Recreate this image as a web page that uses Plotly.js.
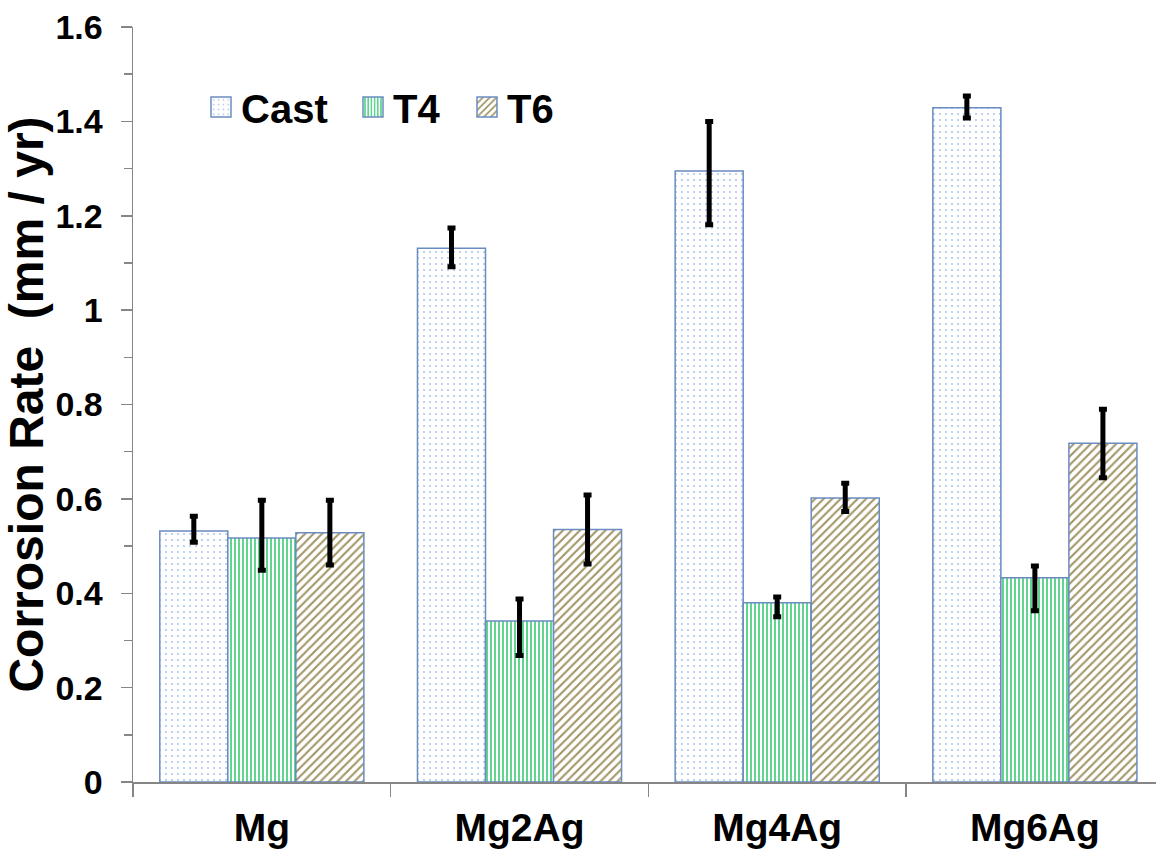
<!DOCTYPE html>
<html>
<head>
<meta charset="utf-8">
<script src="https://cdn.plot.ly/plotly-3.0.1.min.js"></script>
<style>
html,body{margin:0;padding:0;background:#fff;overflow:hidden;}
#chart{width:1156px;height:852px;}
</style>
</head>
<body>
<div id="chart"></div>
<script>
const categories = ['Mg', 'Mg2Ag', 'Mg4Ag', 'Mg6Ag'];
const seriesNames = ['Cast', 'T4', 'T6'];

const castValues = [0.532, 1.131, 1.295, 1.429];
const castErrPlus = [0.031, 0.043, 0.105, 0.025];
const castErrMinus = [0.024, 0.039, 0.114, 0.022];

const t4Values = [0.517, 0.341, 0.380, 0.433];
const t4ErrPlus = [0.080, 0.047, 0.012, 0.025];
const t4ErrMinus = [0.068, 0.073, 0.030, 0.070];

const t6Values = [0.528, 0.535, 0.602, 0.718];
const t6ErrPlus = [0.069, 0.073, 0.031, 0.072];
const t6ErrMinus = [0.068, 0.073, 0.029, 0.073];

const yTickLabels = ['0', '0.2', '0.4', '0.6', '0.8', '1', '1.2', '1.4', '1.6'];
const yTickVals = [0, 0.2, 0.4, 0.6, 0.8, 1.0, 1.2, 1.4, 1.6];

const FONT = '"Liberation Sans", Arial, sans-serif';
const outline = '#6A8CC0';

function errBar(plus, minus) {
  return {type: 'data', symmetric: false, array: plus, arrayminus: minus,
          color: '#000000', thickness: 5, width: 4};
}

const traces = [
  {type: 'bar', name: seriesNames[0], x: categories, y: castValues, legend: 'legend',
   marker: {color: '#ffffff', line: {color: outline, width: 1.5},
            pattern: {shape: '.', fgcolor: '#AFC8EC', bgcolor: '#ffffff', size: 6, solidity: 0.1}},
   error_y: errBar(castErrPlus, castErrMinus)},
  {type: 'bar', name: seriesNames[1], x: categories, y: t4Values, legend: 'legend2',
   marker: {color: '#ffffff', line: {color: outline, width: 1.5},
            pattern: {shape: '|', fgcolor: '#4FD183', bgcolor: '#ffffff', size: 4, solidity: 0.45}},
   error_y: errBar(t4ErrPlus, t4ErrMinus)},
  {type: 'bar', name: seriesNames[2], x: categories, y: t6Values, legend: 'legend3',
   marker: {color: '#ffffff', line: {color: outline, width: 1.5},
            pattern: {shape: '/', fgcolor: '#A39566', bgcolor: '#ffffff', size: 6, solidity: 0.35}},
   error_y: errBar(t6ErrPlus, t6ErrMinus)}
];

function legendAt(px) {
  return {orientation: 'h', x: (px - 133) / 1023, y: 0.894, xanchor: 'left', yanchor: 'middle',
          font: {family: FONT, size: 40, color: '#000000', weight: 'bold'},
          bgcolor: 'rgba(0,0,0,0)'};
}

const layout = {
  width: 1156, height: 852,
  margin: {l: 133, r: 0, t: 27, b: 70},
  paper_bgcolor: '#ffffff', plot_bgcolor: '#ffffff',
  barmode: 'group', bargap: 0.208, bargroupgap: 0,
  font: {family: FONT, color: '#000000', weight: 'bold'},
  showlegend: true,
  legend: legendAt(201),
  legend2: legendAt(353),
  legend3: legendAt(467),
  xaxis: {type: 'category', range: [-0.5, 3.47], showline: true, linecolor: '#868686', linewidth: 1.5,
          ticks: 'outside', tickson: 'boundaries', ticklen: 13, tickcolor: '#868686', tickwidth: 1.5,
          tickfont: {family: FONT, size: 39, color: '#000000', weight: 'bold'},
          ticklabelstandoff: 11, showgrid: false, zeroline: false, fixedrange: true},
  yaxis: {range: [0, 1.6], tickvals: yTickVals, ticktext: yTickLabels,
          showline: true, linecolor: '#868686', linewidth: 1.5,
          ticks: 'outside', ticklen: 11, tickcolor: '#868686', tickwidth: 1.5,
          minor: {dtick: 0.1, tick0: 0, ticks: 'outside', ticklen: 8, tickcolor: '#868686', tickwidth: 1.5, showgrid: false},
          tickfont: {family: FONT, size: 34, color: '#000000', weight: 'bold'},
          ticklabelstandoff: 11, showgrid: false, zeroline: false, fixedrange: true,
          title: {text: 'Corrosion Rate  (mm / yr)', standoff: 0,
                  font: {family: FONT, size: 48, color: '#000000', weight: 'bold'}}}
};

Plotly.newPlot('chart', traces, layout, {displayModeBar: false, staticPlot: true}).then(function () {
  document.querySelectorAll('#chart .legendpoints path').forEach(function (p) {
    p.setAttribute('d', 'M10,10H-10V-10H10Z');
  });
});
</script>
</body>
</html>
